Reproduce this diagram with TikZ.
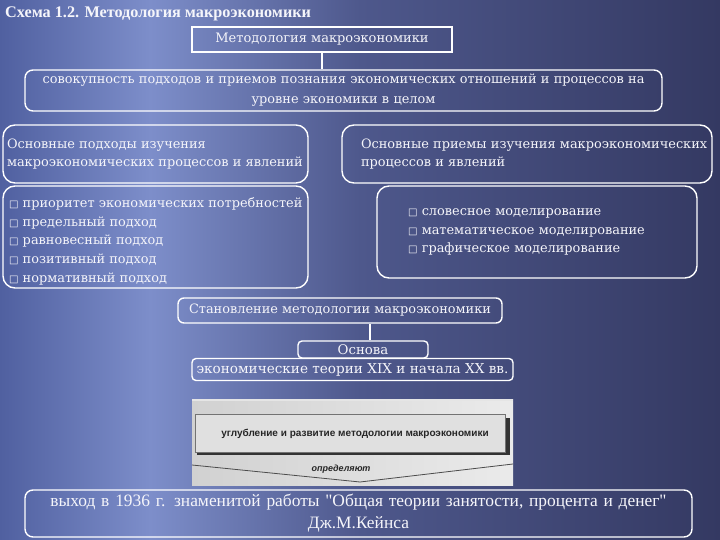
\documentclass[tikz,border=0pt]{standalone}
\usepackage{fontspec}
\setmainfont{DejaVu Serif}
\newfontfamily\tnrfont{Liberation Serif}
\newfontfamily\symfont{DejaVu Sans}
\newfontfamily\scanfont{Liberation Sans}
\newcommand\sqb{{\symfont\fontsize{10}{10}\selectfont □}\ }
\definecolor{bgA}{RGB}{80,96,160}
\definecolor{bgB}{RGB}{125,142,202}
\definecolor{bgC}{RGB}{78,88,140}
\definecolor{bgD}{RGB}{52,57,98}
\definecolor{txt}{RGB}{245,245,250}
\tikzset{
  wbox/.style={draw=white, line width=1.4pt, rounded corners=8pt, inner sep=0pt, text=txt, font=\fontsize{12.9}{18.8}\selectfont},
  bigr/.style={rounded corners=12pt},
  scantext/.style={text=black!85, inner sep=0pt},
  conn/.style={white, line width=1.4pt}
}
\begin{document}
\begin{tikzpicture}[x=1pt,y=-1pt]
\useasboundingbox (0,0) rectangle (720,540);
% background
\shade[left color=bgA, right color=bgB] (0,0) rectangle (150,540);
\shade[left color=bgB, right color=bgC] (150,0) rectangle (360,540);
\shade[left color=bgC, right color=bgD] (360,0) rectangle (720,540);

% title
\node[anchor=base west, inner sep=0pt, text=txt, font=\tnrfont\bfseries\fontsize{16.2}{16}\selectfont] (title) at (5,18) {Схема 1.2. Методология макроэкономики};

% top box
\node[wbox, rounded corners=0pt, minimum width=260, minimum height=25, font=\fontsize{13}{16}\selectfont] (meth) at (322,39.5) {Методология макроэкономики};

\node[wbox, minimum width=637, minimum height=41, text width=625, align=center, font=\fontsize{12.9}{20}\selectfont] (sov) at (343.5,90.5) {совокупность подходов и приемов познания экономических отношений и процессов на\\ уровне экономики в целом};

\draw[conn] (meth.south) -- (meth.south |- sov.north);

% left header
\node[wbox, bigr, minimum width=305, minimum height=58, text width=297, align=left] (lhead) at (155.5,154) {Основные подходы изучения\\ макроэкономических процессов и явлений};

% left list
\node[wbox, bigr, minimum width=305, minimum height=102] (llist) at (155.5,237) {};
\node[anchor=north west, inner sep=0pt, text=txt, align=left, font=\fontsize{12.9}{18.8}\selectfont] (llistT) at (9,197) {\sqb приоритет экономических потребностей\\ \sqb предельный подход\\ \sqb равновесный подход\\ \sqb позитивный подход\\ \sqb нормативный подход};

% right header
\node[wbox, bigr, minimum width=370, minimum height=58, text width=370, align=left] (rhead) at (527,154) {\hspace*{19pt}\mbox{Основные приемы изучения макроэкономических}\\ \hspace*{19pt}\mbox{процессов и явлений}};

% right list
\node[wbox, bigr, minimum width=320, minimum height=92, text width=258, align=left] (rlist) at (537,232) {\sqb словесное моделирование\\ \sqb математическое моделирование\\ \sqb графическое моделирование};

% stanovlenie
\node[wbox, rounded corners=6pt, minimum width=324, minimum height=25] (stan) at (340,310.5) {Становление методологии макроэкономики};

\node[wbox, rounded corners=4pt, minimum width=130, minimum height=17, font=\fontsize{13.3}{16}\selectfont] (osn) at (363,349.5) {Основа};
\node[wbox, rounded corners=4pt, minimum width=321, minimum height=22, font=\fontsize{13.6}{16}\selectfont] (econ) at (352.5,369.5) {экономические теории XIX и начала XX вв.};

\draw[conn] ([xshift=7pt]osn.north) -- ([xshift=7pt]osn.north |- stan.south);

% scanned fragment
\shade[left color=black!18, right color=black!8] (192,399) rectangle (513,485);
\fill[black!10] (192,399) rectangle (513,401);
\fill[black!80] (503,418) rectangle (510,455);
\fill[black!80] (197,451) rectangle (510,455);
\draw[black!55, line width=1pt, fill=black!12] (195,414) rectangle (505,452);
\node[scantext, font=\scanfont\bfseries\fontsize{10}{10}\selectfont] (deep) at (355,434) {углубление и развитие методологии макроэкономики};
\draw[black!70, line width=0.8pt] (192,465) -- (360,482) -- (513,464);
\node[scantext, font=\scanfont\bfseries\itshape\fontsize{9}{10}\selectfont] (opr) at (341,469) {определяют};

% bottom box
\node[wbox, minimum width=667, minimum height=47, text width=655, align=center, font=\tnrfont\fontsize{17.4}{22}\selectfont] (keynes) at (358.5,513.5) {выход в 1936 г. знаменитой работы "Общая теории занятости, процента и денег"\\ Дж.М.Кейнса};
\end{tikzpicture}
\end{document}
